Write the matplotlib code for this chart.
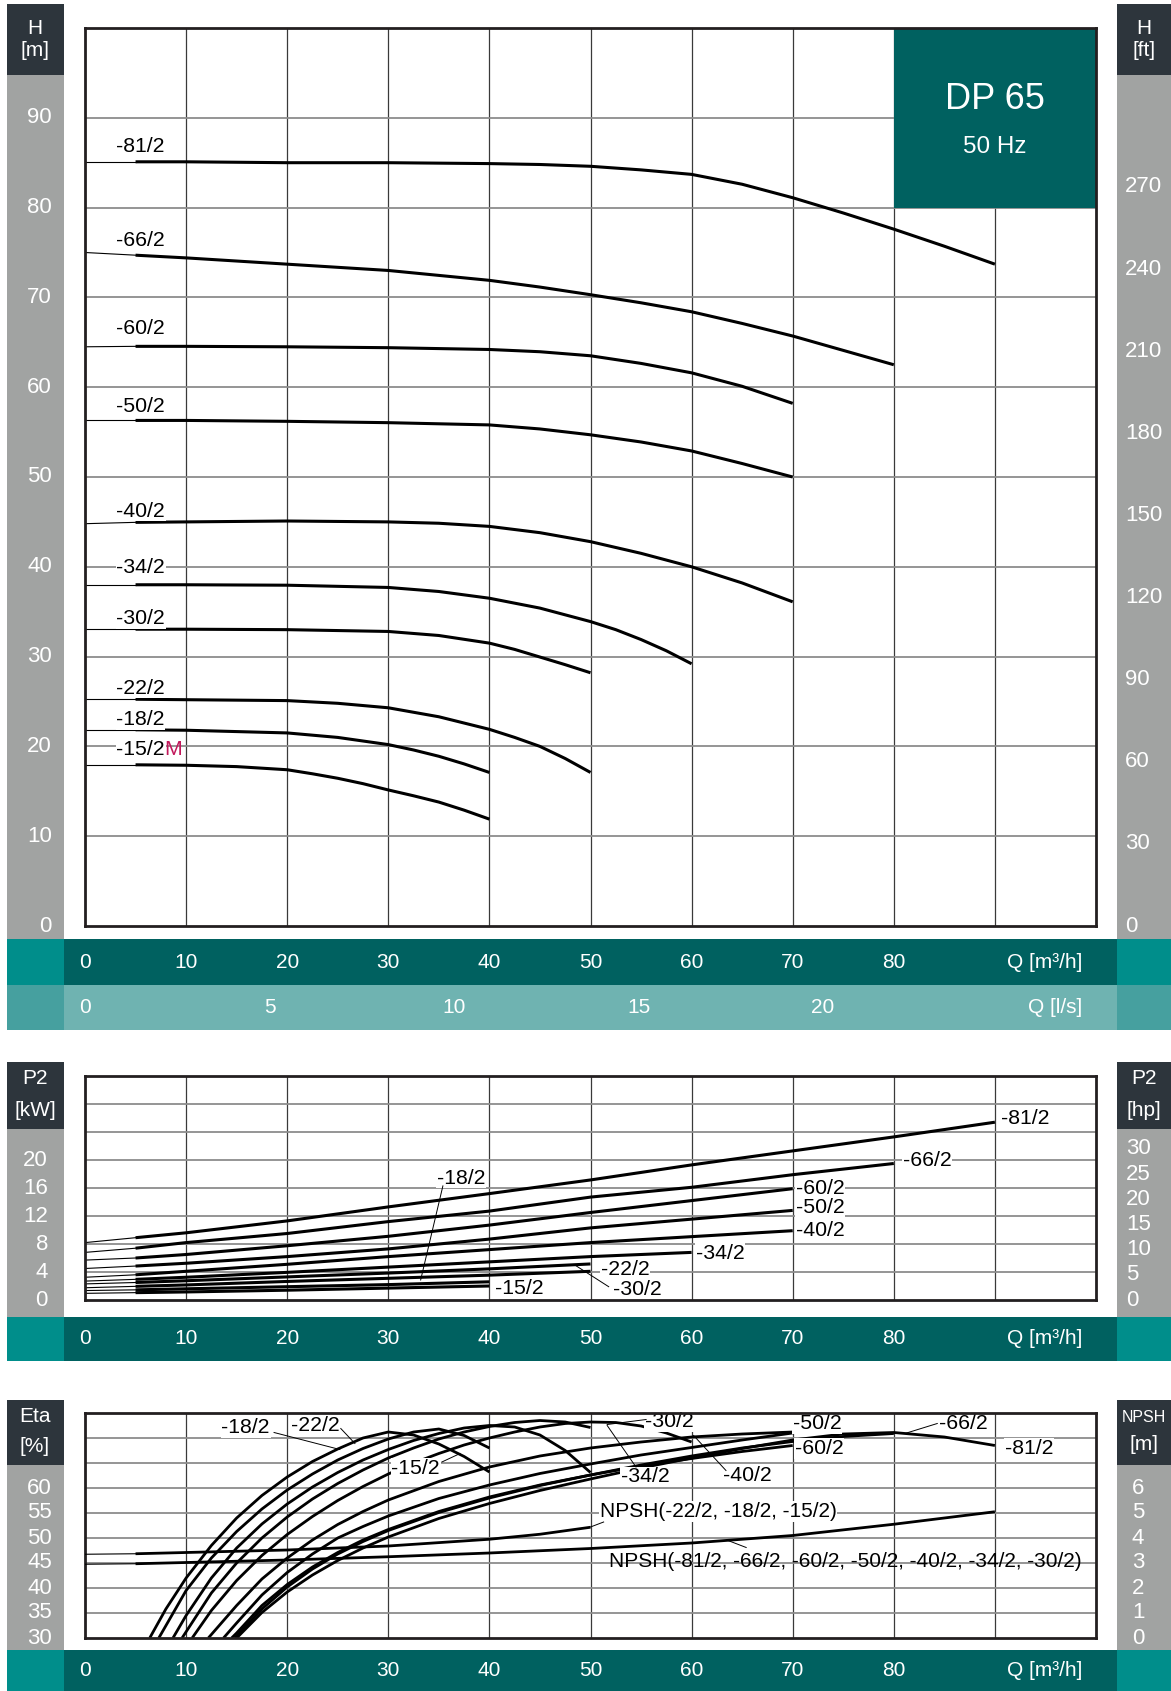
import numpy as np
import matplotlib
matplotlib.use("Agg")
import matplotlib.pyplot as plt
import matplotlib.transforms as mtransforms
from matplotlib.patches import Rectangle

plt.rcParams["font.family"] = ["Liberation Sans", "DejaVu Sans"]

W, H = 1171, 1691

# ---------------- data ----------------
Q_TICKS = [0, 10, 20, 30, 40, 50, 60, 70, 80]
LS_TICKS = [0, 5, 10, 15, 20]
H_TICKS = [0, 10, 20, 30, 40, 50, 60, 70, 80, 90]
FT_TICKS = [0, 30, 60, 90, 120, 150, 180, 210, 240, 270]
KW_TICKS = [0, 4, 8, 12, 16, 20]
HP_TICKS = [0, 5, 10, 15, 20, 25, 30]
ETA_TICKS = [30, 35, 40, 45, 50, 55, 60]
NPSH_TICKS = [0, 1, 2, 3, 4, 5, 6]

# head curves: Q [m3/h], H [m]
hq_81 = [0, 5, 10, 20, 30, 40, 45, 50, 55, 60, 65, 70, 75, 80, 85, 90]
h_81 = [85.1, 85.1, 85.1, 85.0, 85.0, 84.9, 84.8, 84.6, 84.2, 83.7, 82.6, 81.1, 79.4, 77.6, 75.7, 73.7]
hq_66 = [0, 5, 10, 20, 30, 40, 45, 50, 55, 60, 65, 70, 75, 80]
h_66 = [75.0, 74.7, 74.4, 73.7, 73.0, 71.9, 71.15, 70.3, 69.4, 68.4, 67.1, 65.7, 64.1, 62.5]
hq_60 = [0, 5, 10, 20, 30, 40, 45, 50, 55, 60, 65, 70]
h_60 = [64.5, 64.55, 64.55, 64.5, 64.4, 64.2, 63.95, 63.5, 62.65, 61.6, 60.1, 58.2]
hq_50 = [0, 5, 10, 20, 30, 40, 45, 50, 55, 60, 65, 70]
h_50 = [56.3, 56.3, 56.3, 56.2, 56.05, 55.8, 55.35, 54.7, 53.9, 52.9, 51.5, 50.0]
hq_40 = [0, 5, 10, 20, 30, 35, 40, 45, 50, 55, 60, 65, 70]
h_40 = [44.8, 44.95, 45.0, 45.1, 45.0, 44.85, 44.5, 43.8, 42.8, 41.5, 40.0, 38.2, 36.1]
hq_34 = [0, 5, 10, 20, 30, 35, 40, 45, 50, 52.5, 55, 57.5, 60]
h_34 = [38.0, 38.0, 38.0, 37.95, 37.7, 37.25, 36.5, 35.4, 33.9, 33.0, 31.9, 30.65, 29.2]
hq_30 = [0, 5, 10, 20, 30, 35, 40, 42.5, 45, 47.5, 50]
h_30 = [33.05, 33.05, 33.05, 33.0, 32.8, 32.35, 31.5, 30.8, 29.95, 29.1, 28.2]
hq_22 = [0, 5, 10, 20, 25, 30, 35, 40, 42.5, 45, 47.5, 50]
h_22 = [25.25, 25.25, 25.2, 25.1, 24.8, 24.3, 23.3, 21.9, 21.0, 20.0, 18.65, 17.1]
hq_18 = [0, 5, 10, 20, 25, 30, 32.5, 35, 37.5, 40]
h_18 = [21.85, 21.85, 21.8, 21.5, 21.0, 20.2, 19.6, 18.9, 18.05, 17.1]
hq_15 = [0, 5, 10, 15, 20, 22.5, 25, 27.5, 30, 32.5, 35, 37.5, 40]
h_15 = [17.95, 17.95, 17.9, 17.75, 17.4, 16.95, 16.45, 15.85, 15.15, 14.5, 13.8, 12.9, 11.9]

# power curves: Q [m3/h], P2 [kW]
pq_81 = [0, 5, 10, 20, 30, 40, 50, 60, 70, 80, 90]
p_81 = [8.2, 8.9, 9.6, 11.3, 13.3, 15.2, 17.15, 19.3, 21.3, 23.3, 25.4]
pq_66 = [0, 5, 10, 20, 30, 40, 50, 60, 70, 80]
p_66 = [6.8, 7.4, 8.2, 9.5, 11.2, 12.7, 14.7, 16.1, 17.9, 19.5]
pq_60 = [0, 5, 10, 20, 30, 40, 50, 60, 70]
p_60 = [5.7, 6.0, 6.5, 7.75, 9.1, 10.7, 12.5, 14.2, 15.9]
pq_50 = [0, 5, 10, 20, 30, 40, 50, 60, 70]
p_50 = [4.5, 4.85, 5.25, 6.2, 7.3, 8.7, 10.3, 11.55, 12.8]
pq_40 = [0, 5, 10, 20, 30, 40, 50, 60, 70]
p_40 = [3.25, 3.6, 4.1, 5.1, 6.2, 7.2, 8.2, 9.05, 9.9]
pq_34 = [0, 5, 10, 20, 30, 40, 50, 60]
p_34 = [2.7, 2.95, 3.25, 3.95, 4.7, 5.45, 6.2, 6.8]
pq_30 = [0, 5, 10, 20, 30, 40, 50]
p_30 = [2.3, 2.5, 2.75, 3.3, 3.85, 4.45, 5.15]
pq_22 = [0, 5, 10, 20, 30, 40, 50]
p_22 = [1.75, 1.95, 2.15, 2.65, 3.1, 3.55, 4.1]
pq_18 = [0, 5, 10, 20, 30, 40]
p_18 = [1.35, 1.45, 1.6, 1.9, 2.2, 2.6]
pq_15 = [0, 5, 10, 20, 30, 40]
p_15 = [0.95, 1.05, 1.15, 1.4, 1.7, 2.0]

# efficiency curves: Q [m3/h], Eta [%]
eq_15 = [6.4, 8, 10, 12.5, 15, 17.5, 20, 22.5, 25, 27.5, 30, 32.5, 35, 37.5, 40]
e_15 = [30, 35.8, 42, 48.5, 54, 58.5, 62.2, 65.3, 67.8, 70.0, 71.2, 70.6, 68.8, 66.3, 63.2]
eq_18 = [7.3, 10, 12.5, 15, 17.5, 20, 22.5, 25, 27.5, 30, 32.5, 35, 37.5, 40]
e_18 = [30, 39.5, 46, 51.3, 55.8, 59.6, 62.8, 65.6, 67.9, 69.8, 71.2, 71.8, 70.5, 68.0]
eq_22 = [8.7, 10, 12.5, 15, 17.5, 20, 22.5, 25, 27.5, 30, 32.5, 35, 37.5, 40, 42.5, 45, 47.5, 50]
e_22 = [30, 34.5, 42, 48, 52.8, 56.8, 60.2, 63.1, 65.6, 67.7, 69.5, 70.9, 72.0, 72.5, 72.2, 70.6, 67.5, 63.1]
eq_30 = [9.6, 12.5, 15, 17.5, 20, 22.5, 25, 27.5, 30, 32.5, 35, 37.5, 40, 42.5, 45, 47.5, 50]
e_30 = [30, 39, 45, 50, 54.2, 57.8, 60.9, 63.6, 66, 68, 69.8, 71.2, 72.3, 73.1, 73.5, 73.2, 72.1]
eq_34 = [10.6, 12.5, 15, 17.5, 20, 22.5, 25, 27.5, 30, 32.5, 35, 37.5, 40, 42.5, 45, 47.5, 50,
         52.5, 55, 57.5, 60]
e_34 = [30, 35.5, 41.5, 46.5, 50.7, 54.3, 57.5, 60.3, 62.8, 65, 66.9, 68.6, 70, 71.2, 72.2, 72.9, 73.2,
        73.1, 72.4, 71.0, 69.2]
eq_40 = [12.2, 15, 17.5, 20, 22.5, 25, 27.5, 30, 35, 40, 45, 50, 55, 60, 65, 70]
e_40 = [30, 36.5, 41.8, 46, 49.6, 52.7, 55.3, 57.6, 61.3, 64.2, 66.4, 68.0, 69.2, 70.2, 70.8, 71.2]
eq_50 = [13.7, 15, 17.5, 20, 22.5, 25, 27.5, 30, 35, 40, 45, 50, 55, 60, 65, 70]
e_50 = [30, 33, 38.6, 43.1, 46.8, 50, 52.3, 54.4, 57.9, 60.6, 62.9, 64.8, 66.6, 68.1, 69.6, 71.0]
eq_60 = [14.5, 15, 17.5, 20, 22.5, 25, 27.5, 30, 35, 40, 45, 50, 55, 60, 65, 70]
e_60 = [30, 31, 36.5, 40.7, 44.2, 47.1, 49.6, 51.7, 55.3, 58.2, 60.6, 62.6, 64.4, 65.9, 67.3, 68.5]
eq_66 = [14.8, 17.5, 20, 22.5, 25, 27.5, 30, 35, 40, 45, 50, 55, 60, 65, 70, 75, 80]
e_66 = [30, 35.8, 40.2, 43.8, 46.8, 49.3, 51.5, 55.1, 58, 60.5, 62.6, 64.6, 66.4, 68, 69.3, 70.3, 70.9]
eq_81 = [15, 17.5, 20, 22.5, 25, 27.5, 30, 35, 40, 45, 50, 55, 60, 65, 70, 75, 80, 85, 90]
e_81 = [30, 35.1, 39.2, 42.6, 45.5, 48, 50.2, 53.9, 56.9, 59.5, 61.8, 64, 66.0, 67.9, 69.6, 70.8,
        71.1, 70.2, 68.5]

# NPSH curves: Q [m3/h], NPSH [m]
nq_small = [0, 5, 10, 20, 30, 40, 45, 50]
n_small = [3.35, 3.37, 3.42, 3.52, 3.68, 3.95, 4.15, 4.43]
nq_big = [0, 5, 10, 20, 30, 40, 50, 60, 70, 80, 90]
n_big = [2.95, 2.97, 3.02, 3.12, 3.25, 3.4, 3.58, 3.8, 4.1, 4.55, 5.05]

# ---------------- style ----------------
DARK = "#2d353c"
GRAY = "#a1a3a2"
TEAL = "#006160"
TEAL_SQ = "#008e8b"
LIGHT = "#6fb3b1"
LIGHT_SQ = "#46a09f"
VGRID = "#3a3a3a"
HGRID = "#8c8c8c"
LABEL_SIZE = 15.3
TICK_SIZE = 16

fig = plt.figure(figsize=(W / 100, H / 100), dpi=100)


def frac(x0, y0, x1, y1):
    return [x0 / W, 1 - y1 / H, (x1 - x0) / W, (y1 - y0) / H]


def rect(x0, y0, x1, y1, color):
    fig.patches.append(Rectangle((x0 / W, 1 - y1 / H), (x1 - x0) / W, (y1 - y0) / H,
                                 transform=fig.transFigure, fc=color, ec="none", zorder=-5))


def ftext(x, y, s, **kw):
    fig.text(x / W, 1 - y / H, s, **kw)


def side_strips(y_top, y_head, y_bot):
    rect(7, y_top, 64, y_head, DARK)
    rect(7, y_head, 64, y_bot, GRAY)
    rect(1117, y_top, 1171, y_head, DARK)
    rect(1117, y_head, 1171, y_bot, GRAY)


def band(y0, y1, color, sq_color):
    rect(7, y0, 64, y1, sq_color)
    rect(64, y0, 1117, y1, color)
    rect(1117, y0, 1171, y1, sq_color)


def panel(box, ylim, hgrid):
    ax = fig.add_axes(frac(*box))
    ax.set_xlim(0, 100)
    ax.set_ylim(*ylim)
    ax.set_xticks([])
    ax.set_yticks([])
    for q in range(10, 100, 10):
        ax.axvline(q, color=VGRID, lw=0.9, zorder=1)
    for v in hgrid:
        ax.axhline(v, color=HGRID, lw=1.3, zorder=1)
    for s in ax.spines.values():
        s.set_linewidth(2.0)
        s.set_color("#231f20")
        s.set_zorder(6)
    return ax


def draw_curve(ax, q, v, lw=2.2):
    q = np.asarray(q, float)
    v = np.asarray(v, float)
    thin = q <= 5
    if thin.sum() > 1:
        ax.plot(q[thin], v[thin], color="black", lw=0.8, zorder=4)
    thick = q >= 5
    ax.plot(q[thick], v[thick], color="black", lw=lw, zorder=4,
            solid_joinstyle="round", solid_capstyle="butt")


def left_labels(ax, ticks, xr, size=TICK_SIZE):
    tr = mtransforms.blended_transform_factory(fig.transFigure, ax.transData)
    for t in ticks:
        ax.text(xr / W, t, str(t), transform=tr, ha="right", va="center",
                color="white", fontsize=size, clip_on=False)


def right_labels(ax, ticks, pos, xl, size=TICK_SIZE):
    tr = mtransforms.blended_transform_factory(fig.transFigure, ax.transData)
    for t, p in zip(ticks, pos):
        ax.text(xl / W, p, str(t), transform=tr, ha="left", va="center",
                color="white", fontsize=size, clip_on=False)


def band_labels(ax, ticks, pos, yc, unit, size=15):
    tr = mtransforms.blended_transform_factory(ax.transData, fig.transFigure)
    for t, p in zip(ticks, pos):
        ax.text(p, 1 - yc / H, str(t), transform=tr, ha="center", va="center",
                color="white", fontsize=size, clip_on=False)
    ftext(1082, yc, unit, ha="right", va="center", color="white", fontsize=size)


def lab(ax, x, y, s, size=LABEL_SIZE, box=True, ha="left"):
    kw = dict(fc="white", ec="none", pad=0.5) if box else None
    ax.text(x, y, s, fontsize=size, ha=ha, va="center", zorder=5, bbox=kw)


def leader(ax, p0, p1):
    ax.plot([p0[0], p1[0]], [p0[1], p1[1]], color="black", lw=0.7, zorder=5)


# ---------------- head panel ----------------
side_strips(4, 75, 939)
band(939, 985, TEAL, TEAL_SQ)
band(985, 1030, LIGHT, LIGHT_SQ)
ftext(35, 28, "H", ha="center", va="center", color="white", fontsize=15)
ftext(35, 51, "[m]", ha="center", va="center", color="white", fontsize=15)
ftext(1144, 28, "H", ha="center", va="center", color="white", fontsize=15)
ftext(1144, 51, "[ft]", ha="center", va="center", color="white", fontsize=15)

ax_h = panel((85, 28, 1096, 926), (0, 100), range(10, 100, 10))
ax_h.add_patch(Rectangle((80, 80), 20, 20, fc=TEAL, ec="none", zorder=3))
ax_h.text(90, 92.0, "DP 65", ha="center", va="center", color="white", fontsize=26, zorder=4)
ax_h.text(90, 86.8, "50 Hz", ha="center", va="center", color="white", fontsize=17.5, zorder=4)

for q, h in [(hq_81, h_81), (hq_66, h_66), (hq_60, h_60), (hq_50, h_50), (hq_40, h_40),
             (hq_34, h_34), (hq_30, h_30), (hq_22, h_22), (hq_18, h_18), (hq_15, h_15)]:
    draw_curve(ax_h, q, h)

for y, s in [(86.8, "-81/2"), (76.3, "-66/2"), (66.5, "-60/2"), (57.9, "-50/2"),
             (46.2, "-40/2"), (39.9, "-34/2"), (34.2, "-30/2"), (26.5, "-22/2"),
             (23.0, "-18/2"), (19.6, "-15/2")]:
    lab(ax_h, 3.1, y, s)
ax_h.text(7.8, 19.6, "M", color="#c2185b", fontsize=LABEL_SIZE, ha="left", va="center", zorder=5)

left_labels(ax_h, H_TICKS, 52)
right_labels(ax_h, FT_TICKS, [f * 0.3048 for f in FT_TICKS], 1125)
band_labels(ax_h, Q_TICKS, Q_TICKS, 962, "Q [m³/h]")
band_labels(ax_h, LS_TICKS, [v * 3.65 for v in LS_TICKS], 1007.5, "Q [l/s]")

# ---------------- power panel ----------------
side_strips(1062, 1129, 1317)
band(1317, 1361, TEAL, TEAL_SQ)
ftext(35, 1079, "P2", ha="center", va="center", color="white", fontsize=15)
ftext(35, 1110, "[kW]", ha="center", va="center", color="white", fontsize=15)
ftext(1144, 1079, "P2", ha="center", va="center", color="white", fontsize=15)
ftext(1144, 1110, "[hp]", ha="center", va="center", color="white", fontsize=15)

ax_p = panel((85, 1076, 1096, 1300), (0, 32), range(4, 32, 4))
for q, p in [(pq_81, p_81), (pq_66, p_66), (pq_60, p_60), (pq_50, p_50), (pq_40, p_40),
             (pq_34, p_34), (pq_30, p_30), (pq_22, p_22), (pq_18, p_18), (pq_15, p_15)]:
    draw_curve(ax_p, q, p)

lab(ax_p, 90.6, 25.95, "-81/2")
lab(ax_p, 80.9, 20.0, "-66/2")
lab(ax_p, 70.3, 15.95, "-60/2")
lab(ax_p, 70.3, 13.2, "-50/2")
lab(ax_p, 70.3, 10.0, "-40/2")
lab(ax_p, 60.4, 6.67, "-34/2")
lab(ax_p, 51.0, 4.38, "-22/2")
lab(ax_p, 52.2, 1.53, "-30/2")
lab(ax_p, 34.8, 17.4, "-18/2")
lab(ax_p, 40.6, 1.67, "-15/2")
leader(ax_p, (35.4, 16.3), (33.2, 2.86))
leader(ax_p, (48.6, 4.86), (51.8, 1.9))

left_labels(ax_p, KW_TICKS, 48)
right_labels(ax_p, HP_TICKS, [v * 0.72 for v in HP_TICKS], 1126)
band_labels(ax_p, Q_TICKS, Q_TICKS, 1339, "Q [m³/h]")

# ---------------- efficiency / NPSH panel ----------------
side_strips(1400, 1465, 1650)
band(1650, 1691, TEAL, TEAL_SQ)
ftext(35, 1416, "Eta", ha="center", va="center", color="white", fontsize=15)
ftext(35, 1447, "[%]", ha="center", va="center", color="white", fontsize=15)
ftext(1144, 1418, "NPSH", ha="center", va="center", color="white", fontsize=11.5)
ftext(1144, 1445, "[m]", ha="center", va="center", color="white", fontsize=15)

ax_e = panel((85, 1413, 1096, 1638), (30, 75), range(35, 75, 5))
for q, e in [(eq_15, e_15), (eq_18, e_18), (eq_22, e_22), (eq_30, e_30), (eq_34, e_34),
             (eq_40, e_40), (eq_50, e_50), (eq_60, e_60), (eq_66, e_66), (eq_81, e_81)]:
    draw_curve(ax_e, q, e, lw=2.0)

ax_n = ax_e.twinx()
ax_n.set_ylim(0, 9)
ax_n.axis("off")
draw_curve(ax_n, nq_small, n_small, lw=2.0)
draw_curve(ax_n, nq_big, n_big, lw=2.0)

lab(ax_e, 13.5, 72.1, "-18/2")
leader(ax_e, (18.7, 71.1), (25.2, 67.7))
lab(ax_e, 20.4, 72.5, "-22/2")
leader(ax_e, (25.3, 71.9), (26.7, 68.9))
lab(ax_e, 30.3, 63.9, "-15/2")
leader(ax_e, (35.3, 65.2), (37.1, 66.9))
lab(ax_e, 55.4, 73.3, "-30/2")
leader(ax_e, (55.5, 73.7), (51.65, 72.7))
lab(ax_e, 53.0, 62.2, "-34/2")
leader(ax_e, (54.5, 64.2), (51.65, 72.5))
lab(ax_e, 63.1, 62.5, "-40/2")
leader(ax_e, (63.4, 63.5), (60.2, 70.5))
lab(ax_e, 70.0, 72.9, "-50/2")
lab(ax_e, 70.2, 67.9, "-60/2")
lab(ax_e, 84.5, 72.9, "-66/2")
leader(ax_e, (84.3, 72.9), (81.1, 70.9))
lab(ax_e, 91.0, 67.9, "-81/2")
lab(ax_e, 50.9, 55.3, "NPSH(-22/2, -18/2, -15/2)", size=15)
leader(ax_e, (50.0, 52.2), (51.3, 53.2))
lab(ax_e, 51.8, 45.3, "NPSH(-81/2, -66/2, -60/2, -50/2, -40/2, -34/2, -30/2)", size=15, box=False)
leader(ax_e, (63.6, 49.5), (65.4, 48.1))

left_labels(ax_e, ETA_TICKS, 52)
right_labels(ax_e, NPSH_TICKS, [30 + 5 * n for n in NPSH_TICKS], 1132)
band_labels(ax_e, Q_TICKS, Q_TICKS, 1670, "Q [m³/h]")

fig.savefig("out.png", dpi=100)
